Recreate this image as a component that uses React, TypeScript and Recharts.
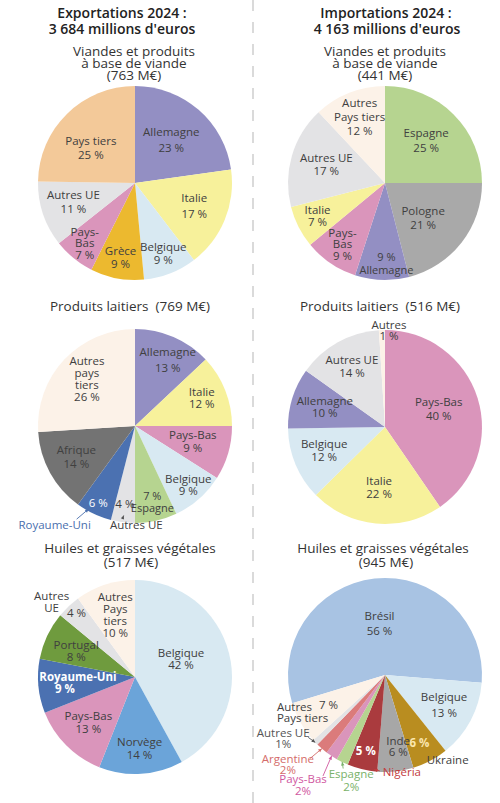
import React from 'react';
import { PieChart, Pie, Cell } from 'recharts';

// Exportations 2024 (parts en %)
const meatExpNames = ['Allemagne', 'Italie', 'Belgique', 'Grèce', 'Pays-Bas', 'Autres UE', 'Pays tiers'];
const meatExpShares = [23, 17, 9, 9, 7, 11, 25];
const dairyExpNames = ['Allemagne', 'Italie', 'Pays-Bas', 'Belgique', 'Espagne', 'Autres UE', 'Royaume-Uni', 'Afrique', 'Autres pays tiers'];
const dairyExpShares = [13, 12, 9, 9, 7, 4, 6, 14, 26];
const oilExpNames = ['Belgique', 'Norvège', 'Pays-Bas', 'Royaume-Uni', 'Portugal', 'Autres UE', 'Autres Pays tiers'];
const oilExpShares = [42, 14, 13, 9, 8, 4, 10];

// Importations 2024 (parts en %)
const meatImpNames = ['Espagne', 'Pologne', 'Allemagne', 'Pays-Bas', 'Italie', 'Autres UE', 'Autres Pays tiers'];
const meatImpShares = [25, 21, 9, 9, 7, 17, 12];
const dairyImpNames = ['Pays-Bas', 'Italie', 'Belgique', 'Allemagne', 'Autres UE', 'Autres'];
const dairyImpShares = [40, 22, 12, 10, 14, 1];
const oilImpNames = ['Brésil', 'Belgique', 'Ukraine', 'Inde', 'Nigéria', 'Espagne', 'Pays-Bas', 'Argentine', 'Autres UE', 'Autres Pays tiers'];
const oilImpShares = [56, 13, 6, 6, 5, 2, 2, 2, 1, 7];

const COLORS: Record<string, string> = {
  'allemagne': '#938fc3',
  'italie': '#f7f19b',
  'belgique': '#d8e9f2',
  'grèce': '#ecb92f',
  'pays-bas': '#da95bb',
  'autres ue': '#e3e3e5',
  'pays tiers': '#f3c999',
  'espagne': '#b6d490',
  'pologne': '#a9a9a9',
  'autres pays tiers': '#fcf2e8',
  'autres': '#fcf2e8',
  'afrique': '#737373',
  'royaume-uni': '#4b71b1',
  'norvège': '#6ba4d9',
  'portugal': '#6f9b3e',
  'brésil': '#a8c3e3',
  'ukraine': '#b98d20',
  'inde': '#a7a7a7',
  'nigéria': '#aa3b3e',
  'argentine': '#db7b7b',
};

const FONT = '"Open Sans", "DejaVu Sans", sans-serif';
const INK = '#404040';
const RAD = Math.PI / 180;
const R = 97;
const LIFT = -2; // small vertical correction for label glyph centres

type Place = { r: number; dx?: number; dy?: number };
type Spec = {
  at: Place;
  lines?: string[];
  lh?: number;
  size?: number;
  pctFirst?: boolean;
  tight?: boolean;
  fill?: string;
  bold?: boolean;
  name?: Place & { lines?: string[]; lh?: number; fill?: string; bold?: boolean; anchor?: 'start' | 'middle' };
  lead?: { from: [number, number]; r: number; da?: number; color?: string };
};

// label placement (radius fraction along the slice middle + small nudges)
const meatExpLabels: Spec[] = [
  { at: { r: 0.57 }, lh: 16 },
  { at: { r: 0.66 }, lh: 16 },
  { at: { r: 0.8 }, lh: 13 },
  { at: { r: 0.8 }, lh: 13 },
  { at: { r: 0.82 }, lines: ['Pays-', 'Bas'], lh: 11.5 },
  { at: { r: 0.67 }, lh: 14 },
  { at: { r: 0.56, dx: -6, dy: 5 }, lh: 14 },
];
const meatImpLabels: Spec[] = [
  { at: { r: 0.6 }, lh: 15 },
  { at: { r: 0.55, dx: -4, dy: 4 }, lh: 14 },
  { at: { r: 0.85, dx: 4 }, pctFirst: true, lh: 13, size: 11 },
  { at: { r: 0.78 }, lines: ['Pays-', 'Bas'], lh: 11.5 },
  { at: { r: 0.78 }, lh: 12 },
  { at: { r: 0.63 }, lh: 13 },
  { at: { r: 0.71 }, lines: ['Autres', 'Pays tiers'], lh: 14 },
];
const dairyExpLabels: Spec[] = [
  { at: { r: 0.72, dx: 5 }, lh: 16 },
  { at: { r: 0.74 }, lh: 12.5 },
  { at: { r: 0.62 }, lh: 13 },
  { at: { r: 0.83 }, lh: 12.5 },
  { at: { r: 0.82 }, pctFirst: true, lh: 11.5, size: 11 },
  { at: { r: 0.83 }, name: { r: 1.04, dx: 14 }, lead: { from: [-14, -7], r: 0.93 } },
  { at: { r: 0.89 }, fill: '#ffffff', name: { r: 1.05, dx: -37, dy: 8, fill: '#4a6fae' }, lead: { from: [22, -7], r: 0.98, da: -4, color: '#4a6fae' } },
  { at: { r: 0.69 }, lh: 14 },
  { at: { r: 0.68 }, lines: ['Autres', 'pays', 'tiers'], lh: 12 },
];
const dairyImpLabels: Spec[] = [
  { at: { r: 0.58 }, lh: 14 },
  { at: { r: 0.64 }, lh: 13 },
  { at: { r: 0.68 }, lh: 13 },
  { at: { r: 0.65 }, lh: 12 },
  { at: { r: 0.7 }, lh: 13 },
  { at: { r: 1.0, dx: 7, dy: 2 }, lh: 11 },
];
const oilExpLabels: Spec[] = [
  { at: { r: 0.49, dy: -5 }, lh: 12 },
  { at: { r: 0.75 }, lh: 13 },
  { at: { r: 0.68 }, lh: 13 },
  { at: { r: 0.72, dx: -0.5, dy: 7 }, fill: '#ffffff', bold: true, size: 11.5, name: { r: 0.72, dx: 12.5, dy: -5, fill: '#ffffff', bold: true } },
  { at: { r: 0.67, dy: 3 }, lh: 11.5 },
  { at: { r: 0.88 }, name: { r: 1.12, dx: -9, dy: 6, lines: ['Autres', 'UE'], lh: 12 } },
  { at: { r: 0.66 }, lines: ['Autres', 'Pays', 'tiers'], lh: 12 },
];
const oilImpLabels: Spec[] = [
  { at: { r: 0.52 }, lh: 15 },
  { at: { r: 0.69 }, lh: 16 },
  { at: { r: 0.85, dx: -4, dy: -3 }, fill: '#fbe6ae', bold: true, name: { r: 1.12, dx: 12, dy: -10 } },
  { at: { r: 0.78, dx: 5, dy: -2 }, lh: 11.5 },
  { at: { r: 0.84, dy: -2 }, fill: '#ffffff', bold: true, name: { r: 1.06, dx: 41, dy: -1, fill: '#c23b3e' }, lead: { from: [-22, -3], r: 0.98, da: 7, color: '#c23b3e' } },
  { at: { r: 1.0, dx: 9, dy: 19.5 }, tight: true, lh: 13, fill: '#79b26a', lead: { from: [-8, -13], r: 1.0, color: '#79b26a' } },
  { at: { r: 1.0, dx: -28.6, dy: 31 }, tight: true, lh: 12, fill: '#d0589f', lead: { from: [20, -11], r: 1.0, color: '#d0589f' } },
  { at: { r: 1.0, dx: -34, dy: 17 }, tight: true, lh: 11, fill: '#d46c6a', lead: { from: [22, -7], r: 1.0, color: '#d46c6a' } },
  { at: { r: 1.0, dx: -32, dy: -2 }, tight: true, lh: 11, fill: '#555555', lead: { from: [25, -3], r: 1.0, color: '#555555' } },
  { at: { r: 0.67, dy: -1 }, name: { r: 1.0, dx: -23.7, dy: -9, anchor: 'start', lines: ['Autres', 'Pays tiers'], lh: 11.5 } },
];

const polar = (cx: number, cy: number, rr: number, angle: number) => [
  cx + rr * Math.cos(-angle * RAD),
  cy + rr * Math.sin(-angle * RAD),
];

const TextBlock = ({ x, y, lines, lh, anchor = 'middle', fill = INK, bold = false, size = 11.5 }: any) => {
  const n = lines.length;
  return (
    <>
      {lines.map((t: string, i: number) => (
        <text key={i} x={x} y={y + LIFT + (i - (n - 1) / 2) * lh} textAnchor={anchor} dominantBaseline="central"
          fill={fill} fontSize={size} fontWeight={bold ? 700 : 400} fontFamily={FONT}>
          {t}
        </text>
      ))}
    </>
  );
};

const makeLabel = (specs: Spec[]) => (p: any) => {
  const { cx, cy, midAngle, outerRadius, index, value } = p;
  const s = specs[index];
  if (!s) return null;
  const name = p.payload?.name ?? p.name;
  const pct = s.tight ? `${value}%` : `${value} %`;
  const nameLines = s.lines ?? [name];
  const lh = s.lh ?? 14;
  const size = s.size ?? 11.5;
  const fill = s.fill ?? INK;
  const [bx, by] = polar(cx, cy, outerRadius * s.at.r, midAngle);
  const x = bx + (s.at.dx ?? 0);
  const y = by + (s.at.dy ?? 0);
  const parts: any[] = [];
  let nx = x;
  let ny = y;
  if (s.name) {
    parts.push(<TextBlock key="p" x={x} y={y} lines={[pct]} lh={lh} fill={fill} bold={s.bold} size={size} />);
    const [qx, qy] = polar(cx, cy, outerRadius * s.name.r, midAngle);
    nx = qx + (s.name.dx ?? 0);
    ny = qy + (s.name.dy ?? 0);
    parts.push(
      <TextBlock key="n" x={nx} y={ny} lines={s.name.lines ?? nameLines} lh={s.name.lh ?? lh}
        anchor={s.name.anchor ?? 'middle'} fill={s.name.fill ?? INK} bold={s.name.bold} size={11.5} />
    );
  } else {
    const lines = s.pctFirst ? [pct, ...nameLines] : [...nameLines, pct];
    parts.push(<TextBlock key="b" x={x} y={y} lines={lines} lh={lh} fill={fill} bold={s.bold} size={size} />);
  }
  if (s.lead) {
    const [ex, ey] = polar(cx, cy, outerRadius * s.lead.r, midAngle + (s.lead.da ?? 0));
    const sx = nx + s.lead.from[0];
    const sy = ny + s.lead.from[1];
    const a = Math.atan2(ey - sy, ex - sx);
    const h = 4;
    const col = s.lead.color ?? '#555555';
    parts.push(<line key="l" x1={sx} y1={sy} x2={ex} y2={ey} stroke={col} strokeWidth={0.9} />);
    parts.push(
      <polygon key="a" fill={col}
        points={`${ex},${ey} ${ex - h * Math.cos(a - 0.45)},${ey - h * Math.sin(a - 0.45)} ${ex - h * Math.cos(a + 0.45)},${ey - h * Math.sin(a + 0.45)}`} />
    );
  }
  return <g key={`lab-${index}`}>{parts}</g>;
};

const toData = (names: string[], shares: number[]) => names.map((n, i) => ({ name: n, value: shares[i] }));

const PIES = [
  { id: 'meatExp', data: toData(meatExpNames, meatExpShares), specs: meatExpLabels, cx: 130, cy: 178, start: 90 },
  { id: 'meatImp', data: toData(meatImpNames, meatImpShares), specs: meatImpLabels, cx: 380, cy: 178, start: 90 },
  { id: 'dairyExp', data: toData(dairyExpNames, dairyExpShares), specs: dairyExpLabels, cx: 130, cy: 421, start: 90 },
  { id: 'dairyImp', data: toData(dairyImpNames, dairyImpShares), specs: dairyImpLabels, cx: 380, cy: 422, start: 90 },
  { id: 'oilExp', data: toData(oilExpNames, oilExpShares), specs: oilExpLabels, cx: 130, cy: 672, start: 90 },
  { id: 'oilImp', data: toData(oilImpNames, oilImpShares), specs: oilImpLabels, cx: 380, cy: 670, start: 197 },
];

const TITLES: [string, number, number, number, number][] = [
  // text, x, y, size, weight
  ['Exportations 2024 :', 122, 12, 14, 600],
  ["3 684 millions d'euros", 122, 28, 14, 600],
  ['Importations 2024 :', 386, 12, 14, 600],
  ["4 163 millions d'euros", 387, 28, 14, 600],
  ['Viandes et produits', 134, 51, 13.5, 400],
  ['à base de viande', 134, 63, 13.5, 400],
  ['(763 M€)', 134, 75, 13.5, 400],
  ['Viandes et produits', 385, 51, 13.5, 400],
  ['à base de viande', 385, 63, 13.5, 400],
  ['(441 M€)', 385, 75, 13.5, 400],
  ['Produits laitiers  (769 M€)', 130, 306, 13.5, 400],
  ['Produits laitiers  (516 M€)', 380, 306, 13.5, 400],
  ['Huiles et graisses végétales', 130, 548, 13.5, 400],
  ['(517 M€)', 131, 562, 13.5, 400],
  ['Huiles et graisses végétales', 383, 548, 13.5, 400],
  ['(945 M€)', 386, 562, 13.5, 400],
];

export default function App() {
  return (
    <div style={{ position: 'absolute', left: 0, top: 0, width: 500, height: 803, background: '#ffffff' }}>
      <PieChart width={500} height={803}>
        {PIES.map((p) => (
          <Pie
            key={p.id}
            data={p.data}
            dataKey="value"
            nameKey="name"
            cx={p.cx}
            cy={p.cy}
            outerRadius={R}
            startAngle={p.start}
            endAngle={p.start - 360}
            stroke="none"
            isAnimationActive={false}
            labelLine={false}
            label={makeLabel(p.specs)}
          >
            {p.data.map((d) => (
              <Cell key={d.name} fill={COLORS[d.name.toLowerCase()]} />
            ))}
          </Pie>
        ))}
      </PieChart>
      <svg width={500} height={803} style={{ position: 'absolute', left: 0, top: 0, pointerEvents: 'none' }}>
        <line x1={253} y1={0} x2={253} y2={803} stroke="#b5b5b5" strokeWidth={1} strokeDasharray="11 11" />
        {TITLES.map(([t, x, y, size, weight], i) => (
          <text key={i} x={x} y={y} textAnchor="middle" dominantBaseline="central" fontFamily={FONT}
            fontSize={size} fontWeight={weight} fill={weight > 400 ? '#222222' : '#333333'} style={{ whiteSpace: 'pre' }}>
            {t}
          </text>
        ))}
      </svg>
    </div>
  );
}
